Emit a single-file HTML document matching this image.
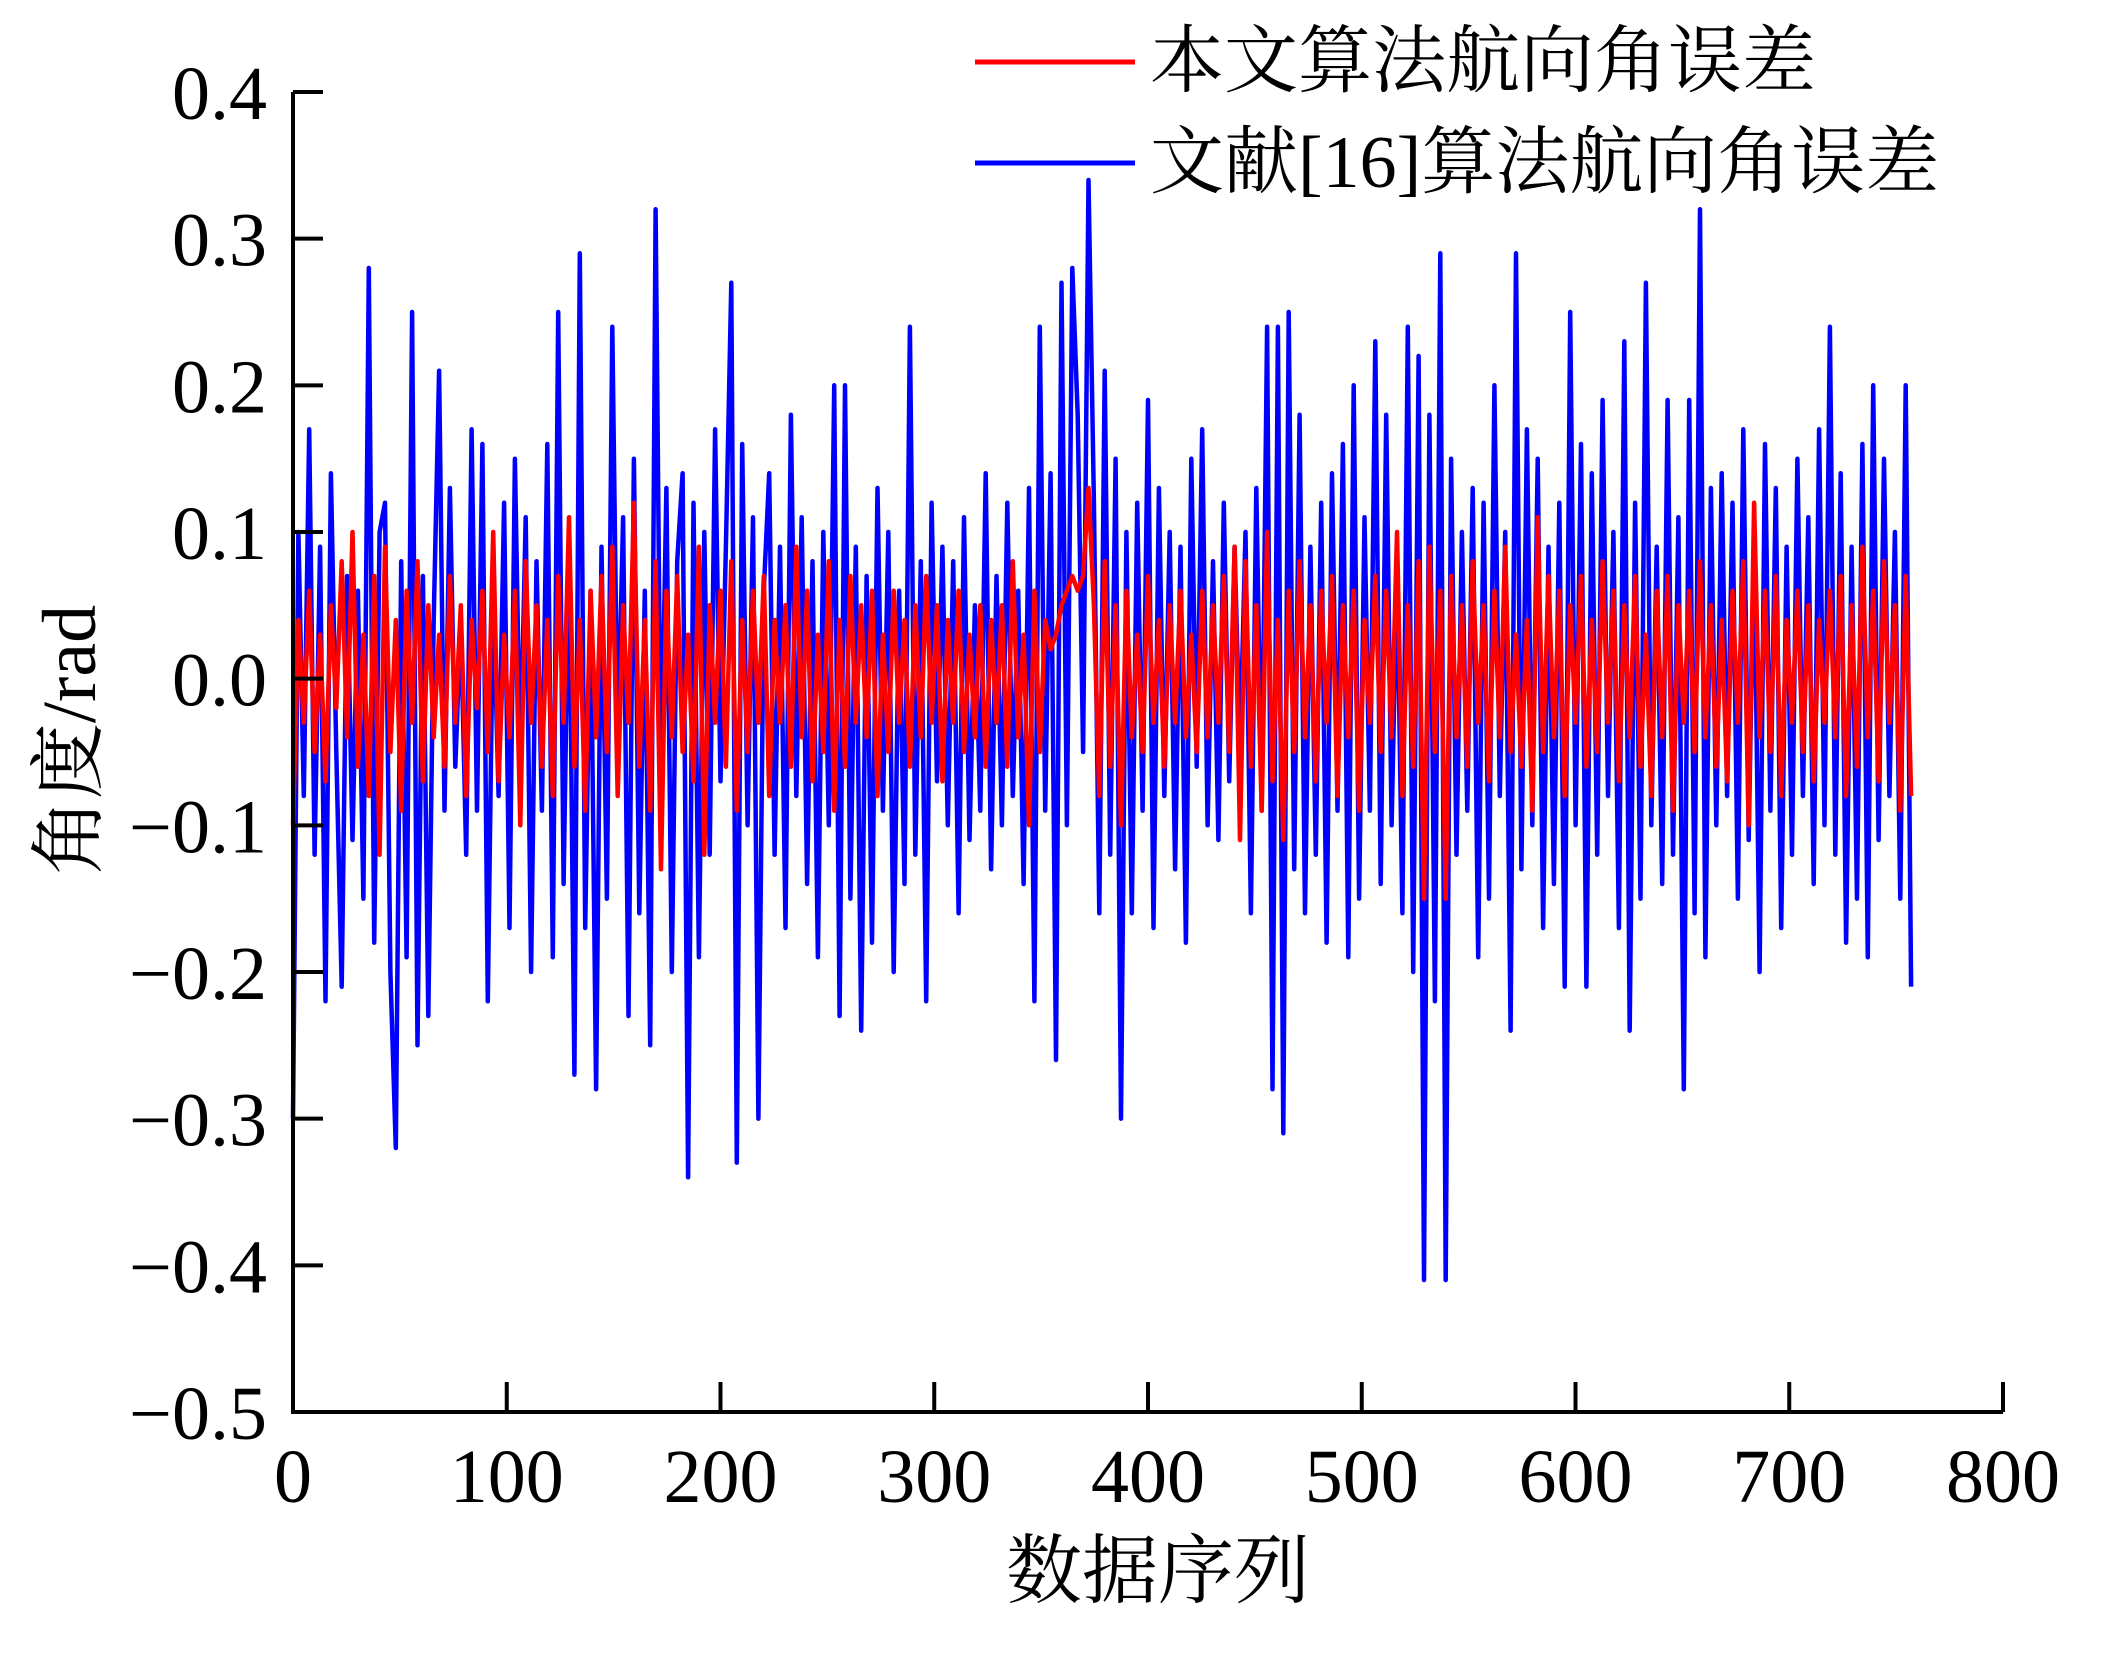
<!DOCTYPE html>
<html><head><meta charset="utf-8"><style>
html,body{margin:0;padding:0;background:#fff;}
svg{display:block;font-family:"Liberation Serif","Noto Serif CJK SC","Noto Sans CJK SC",serif;}
</style></head><body>
<svg id="chart" width="2102" height="1654" viewBox="0 0 2102 1654" xmlns="http://www.w3.org/2000/svg">
<rect width="2102" height="1654" fill="#fff"/>
<g id="series"></g>
<g id="axes"></g>
<text x="1158" y="1572" font-size="76" text-anchor="middle" dominant-baseline="central">数据序列</text>
<text transform="translate(70,740) rotate(-90)" font-size="76" text-anchor="middle" dominant-baseline="central">角度/rad</text>
<g>
<line x1="975" y1="62" x2="1135" y2="62" stroke="#ff0000" stroke-width="5"/>
<text x="1150" y="62" font-size="74" dominant-baseline="central">本文算法航向角误差</text>
<line x1="975" y1="163" x2="1135" y2="163" stroke="#0000ff" stroke-width="5"/>
<text x="1150" y="163" font-size="74" dominant-baseline="central">文献[16]算法航向角误差</text>
</g>
</svg>
<script>
const xTicks=[0,100,200,300,400,500,600,700,800];
const yTicks=[0.4,0.3,0.2,0.1,0.0,-0.1,-0.2,-0.3,-0.4,-0.5];
const yTickLabels=["0.4","0.3","0.2","0.1","0.0","\u22120.1","\u22120.2","\u22120.3","\u22120.4","\u22120.5"];
const lastIndex=757;
const blueVals=[-30,10,-8,17,-12,9,-22,14,-5,-21,7,-11,6,-15,28,-18,10,12,-20,-32,8,-19,25,-25,7,-23,4,21,-9,13,-6,4,-12,17,-9,16,-22,6,-8,12,-17,15,-6,11,-20,8,-9,16,-19,25,-14,10,-27,29,-17,6,-28,9,-15,24,-5,11,-23,15,-16,6,-25,32,-8,13,-20,8,14,-34,12,-19,10,-12,17,-7,9,27,-33,16,-10,11,-30,6,14,-12,9,-17,18,-8,11,-14,8,-19,10,-10,20,-23,20,-15,9,-24,7,-18,13,-9,10,-20,6,-14,24,-12,8,-22,12,-7,9,-10,8,-16,11,-11,5,-9,14,-13,7,-10,12,-8,6,-14,13,-22,24,-9,14,-26,27,-10,28,18,-5,34,12,-16,21,-12,15,-30,10,-16,12,-9,19,-17,13,-8,10,-13,9,-18,15,-6,17,-10,8,-11,12,-7,9,-5,10,-16,13,-9,24,-28,24,-31,25,-13,18,-16,9,-12,12,-18,14,-9,16,-19,20,-15,11,-9,23,-14,18,-10,8,-16,24,-20,22,-41,18,-22,29,-41,15,-12,10,-9,13,-19,12,-15,20,-8,10,-24,29,-13,17,-10,15,-17,9,-14,12,-21,25,-10,16,-21,14,-12,19,-8,10,-17,23,-24,12,-15,27,-10,9,-14,19,-12,11,-28,19,-16,32,-19,13,-10,14,-8,12,-15,17,-11,10,-20,16,-9,13,-17,9,-12,15,-8,11,-14,17,-10,24,-12,14,-18,9,-15,16,-19,20,-11,15,-8,10,-15,20,-21];
const redVals=[-10,4,-3,6,-5,3,-7,5,-2,8,-4,10,-6,3,-8,7,-12,9,-5,4,-9,6,-3,8,-7,5,-4,3,-6,7,-3,5,-8,4,-2,6,-5,10,-7,3,-4,6,-10,8,-3,5,-6,4,-8,7,-3,11,-6,4,-9,6,-4,7,-5,9,-8,5,-3,12,-6,4,-9,8,-13,6,-4,7,-5,3,-7,9,-12,5,-3,6,-6,8,-9,4,-5,6,-3,7,-8,4,-3,5,-6,9,-4,6,-7,3,-5,8,-9,4,-6,7,-3,5,-4,6,-8,3,-5,6,-3,4,-6,5,-4,7,-3,5,-7,4,-3,6,-5,3,-4,5,-6,4,-3,5,-6,8,-4,3,-10,6,-5,4,2,3,5,6,7,6,7,13,5,-8,8,-6,5,-10,6,-4,3,-5,7,-3,4,-6,5,-3,6,-4,3,-5,6,-4,5,-3,7,-5,9,-11,8,-6,5,-9,10,-7,4,-11,6,-5,8,-4,5,-7,6,-3,7,-8,5,-4,6,-9,4,-3,7,-5,6,-4,10,-8,5,-6,8,-15,9,-5,6,-15,7,-4,5,-6,8,-3,5,-7,6,-4,9,-5,3,-6,4,-9,11,-5,7,-4,6,-8,5,-3,7,-6,4,-5,8,-3,6,-7,5,-4,7,-6,3,-8,6,-4,7,-9,5,-3,6,-5,8,-4,5,-6,4,-7,6,-3,8,-10,12,-4,6,-5,7,-8,4,-3,6,-5,5,-7,4,-3,6,-4,7,-8,5,-6,9,-4,6,-7,8,-3,5,-9,7,-8];

const X0=293,X1=2003,Y0=92,Y1=1412;
const sx=v=>X0+(v-0)/(800-0)*(X1-X0);
const sy=v=>Y0+(0.4-v)/(0.9)*(Y1-Y0);
const NS="http://www.w3.org/2000/svg";
const ser=document.getElementById('series');
function drawSeries(vals,color,name){
  const n=vals.length;
  const pts=vals.map((v,i)=>sx(i*lastIndex/(n-1)).toFixed(1)+','+sy(v/100).toFixed(1)).join(' ');
  const pl=document.createElementNS(NS,'polyline');
  pl.setAttribute('points',pts);
  pl.setAttribute('fill','none');
  pl.setAttribute('stroke',color);
  pl.setAttribute('stroke-width','4.5');
  pl.setAttribute('stroke-linejoin','round');
  
  
  ser.appendChild(pl);
}
drawSeries(blueVals,'#0000ff','blue-series-line');
drawSeries(redVals,'#ff0000','red-series-line');

const ax=document.getElementById('axes');
const axisPath=document.createElementNS(NS,'path');
axisPath.setAttribute('d',`M${X0},${Y0} V${Y1} H${X1}`);
axisPath.setAttribute('fill','none');
axisPath.setAttribute('stroke','#000');
axisPath.setAttribute('stroke-width','4');


ax.appendChild(axisPath);
yTicks.forEach((t,i)=>{
  const y=sy(t);
  const l=document.createElementNS(NS,'line');
  l.setAttribute('x1',X0);l.setAttribute('x2',X0+30);l.setAttribute('y1',y);l.setAttribute('y2',y);
  l.setAttribute('stroke','#000');l.setAttribute('stroke-width','4');
  
  
  ax.appendChild(l);
  const tx=document.createElementNS(NS,'text');
  tx.setAttribute('x',267);tx.setAttribute('y',y+27);
  tx.setAttribute('text-anchor','end');tx.setAttribute('font-size','76');
  tx.textContent=yTickLabels[i];
  
  
  ax.appendChild(tx);
});
xTicks.forEach(t=>{
  const x=sx(t);
  const l=document.createElementNS(NS,'line');
  l.setAttribute('x1',x);l.setAttribute('x2',x);l.setAttribute('y1',Y1);l.setAttribute('y2',Y1-30);
  l.setAttribute('stroke','#000');l.setAttribute('stroke-width','4');
  
  
  ax.appendChild(l);
  const tx=document.createElementNS(NS,'text');
  tx.setAttribute('x',x);tx.setAttribute('y',1502);
  tx.setAttribute('text-anchor','middle');tx.setAttribute('font-size','76');
  tx.textContent=String(t);
  
  
  ax.appendChild(tx);
});
</script>
</body></html>
